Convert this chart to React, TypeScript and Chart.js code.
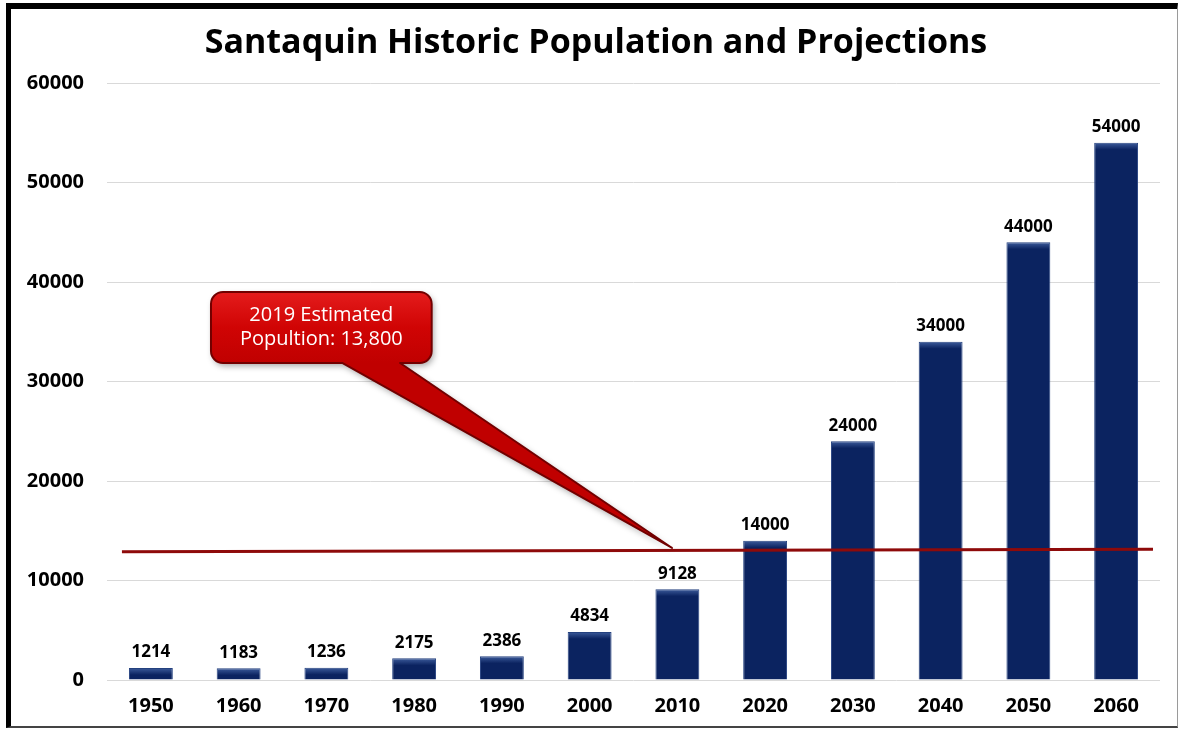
import React, { useEffect, useRef } from 'react';
import { Chart, registerables } from 'chart.js';

Chart.register(...registerables);

// ---- Data ----
const years = ['1950', '1960', '1970', '1980', '1990', '2000', '2010', '2020', '2030', '2040', '2050', '2060'];
const population = [1214, 1183, 1236, 2175, 2386, 4834, 9128, 14000, 24000, 34000, 44000, 54000];
const yMin = 0;
const yMax = 60000;
const yStep = 10000;

// 2019 estimate reference line (x in category-index units, y in population)
const estimateLineX = [-0.33, 11.42];
const estimateLineY = [12900, 13150];

// Callout annotation
const calloutText = ['2019 Estimated', 'Popultion: 13,800'];
const calloutBoxX = [0.685, 3.2];
const calloutBoxY = [39000, 31860];
const calloutTailBaseX = [2.18, 2.84];
const calloutTip = [5.94, 13270];

const titleText = 'Santaquin Historic Population and Projections';
const FONT = '"Open Sans", "Liberation Sans", sans-serif';

export default function App() {
  const ref = useRef<HTMLCanvasElement | null>(null);

  useEffect(() => {
    const canvas = ref.current;
    if (!canvas) return;

    const titlePlugin = {
      id: 'centeredTitle',
      afterDraw(chart: any) {
        const ctx = chart.ctx;
        ctx.save();
        ctx.font = `bold 34px ${FONT}`;
        ctx.fillStyle = '#000';
        ctx.textAlign = 'center';
        ctx.textBaseline = 'middle';
        ctx.fillText(titleText, 596, 43);
        ctx.restore();
      },
    };

    const valueLabels = {
      id: 'valueLabels',
      afterDatasetsDraw(chart: any) {
        const ctx = chart.ctx;
        const meta = chart.getDatasetMeta(0);
        ctx.save();
        ctx.font = `bold 17px ${FONT}`;
        ctx.fillStyle = '#000';
        ctx.textAlign = 'center';
        ctx.textBaseline = 'bottom';
        meta.data.forEach((bar: any, i: number) => {
          ctx.fillText(String(population[i]), bar.x, bar.y - 7);
        });
        ctx.restore();
      },
    };

    const callout = {
      id: 'callout',
      afterDraw(chart: any) {
        const ctx = chart.ctx;
        const xs = chart.scales.x2;
        const ys = chart.scales.y;
        const l = xs.getPixelForValue(calloutBoxX[0]);
        const r = xs.getPixelForValue(calloutBoxX[1]);
        const t = ys.getPixelForValue(calloutBoxY[0]);
        const b = ys.getPixelForValue(calloutBoxY[1]);
        const tb0 = xs.getPixelForValue(calloutTailBaseX[0]);
        const tb1 = xs.getPixelForValue(calloutTailBaseX[1]);
        const tx = xs.getPixelForValue(calloutTip[0]);
        const ty = ys.getPixelForValue(calloutTip[1]);
        const rad = 12;

        ctx.save();
        ctx.beginPath();
        ctx.moveTo(l + rad, t);
        ctx.arcTo(r, t, r, b, rad);
        ctx.arcTo(r, b, tb1, b, rad);
        ctx.lineTo(tb1, b);
        ctx.lineTo(tx, ty);
        ctx.lineTo(tb0, b);
        ctx.arcTo(l, b, l, t, rad);
        ctx.arcTo(l, t, r, t, rad);
        ctx.closePath();
        ctx.shadowColor = 'rgba(0,0,0,0.35)';
        ctx.shadowBlur = 6;
        ctx.shadowOffsetX = 2;
        ctx.shadowOffsetY = 3;
        const g = ctx.createLinearGradient(0, t, 0, b);
        g.addColorStop(0, '#e41c1c');
        g.addColorStop(0.5, '#d00404');
        g.addColorStop(1, '#c00000');
        ctx.fillStyle = g;
        ctx.fill();
        ctx.shadowColor = 'transparent';
        ctx.lineWidth = 2;
        ctx.strokeStyle = '#720000';
        ctx.lineJoin = 'round';
        ctx.stroke();

        ctx.fillStyle = '#ffffff';
        ctx.font = `20px ${FONT}`;
        ctx.textAlign = 'center';
        ctx.textBaseline = 'middle';
        const cx = (l + r) / 2;
        const cy = (t + b) / 2;
        ctx.fillText(calloutText[0], cx, cy - 12);
        ctx.fillText(calloutText[1], cx, cy + 12);
        ctx.restore();
      },
    };

    const barFill = (c: any) => {
      const chart = c.chart;
      const area = chart.chartArea;
      if (!area || c.type !== 'data') return '#0b2360';
      const top = chart.scales.y.getPixelForValue(population[c.dataIndex]);
      const grad = chart.ctx.createLinearGradient(0, top, 0, top + 7);
      grad.addColorStop(0, '#3d5c9c');
      grad.addColorStop(1, '#0b2360');
      return grad;
    };

    const chart = new Chart(canvas, {
      type: 'bar',
      data: {
        labels: years,
        datasets: [
          {
            type: 'bar',
            data: population,
            backgroundColor: barFill,
            borderColor: '#24417f',
            borderWidth: 1,
            barPercentage: 0.5,
            categoryPercentage: 1,
            grouped: false,
            order: 2,
            xAxisID: 'x',
            yAxisID: 'y',
          } as any,
          {
            type: 'line',
            data: estimateLineX.map((x, i) => ({ x, y: estimateLineY[i] })),
            borderColor: '#8e0a0a',
            borderWidth: 3,
            pointRadius: 0,
            fill: false,
            order: 1,
            xAxisID: 'x2',
            yAxisID: 'y',
          } as any,
        ],
      },
      options: {
        responsive: false,
        animation: false,
        devicePixelRatio: 1,
        layout: { padding: { left: 12, right: 21, top: 83, bottom: 10 } },
        plugins: {
          legend: { display: false },
          tooltip: { enabled: false },
          title: { display: false },
        },
        scales: {
          x: {
            type: 'category',
            offset: true,
            grid: { display: false, drawTicks: false },
            border: { display: false },
            ticks: {
              color: '#000',
              font: { family: FONT, size: 20, weight: 'bold' },
              padding: 14,
              maxRotation: 0,
            },
            afterFit(scale: any) {
              scale.height = 39;
            },
          },
          x2: {
            type: 'linear',
            min: -0.5,
            max: 11.5,
            offset: false,
            display: false,
          },
          y: {
            min: yMin,
            max: yMax,
            grid: { color: '#d9d9d9', lineWidth: 1, drawTicks: false },
            border: { display: false },
            ticks: {
              stepSize: yStep,
              color: '#000',
              font: { family: FONT, size: 20, weight: 'bold' },
              padding: 23,
              callback: (v: any) => String(v),
            },
            afterFit(scale: any) {
              scale.width = 95;
            },
          },
        },
      },
      plugins: [valueLabels, callout, titlePlugin],
    } as any);

    return () => chart.destroy();
  }, []);

  return (
    <div style={{ position: 'fixed', left: 0, top: 0, width: 1181, height: 729, background: '#fff' }}>
      <canvas ref={ref} width={1181} height={729} style={{ position: 'absolute', left: 0, top: 0, display: 'block' }} />
      <div
        style={{
          position: 'absolute',
          left: 6,
          top: 3,
          width: 1172,
          height: 725,
          boxSizing: 'border-box',
          borderLeft: '5px solid #000',
          borderTop: '6px solid #000',
          borderRight: '1px solid #9a9a9a',
          borderBottom: '2px solid #444',
          pointerEvents: 'none',
        }}
      />
    </div>
  );
}
